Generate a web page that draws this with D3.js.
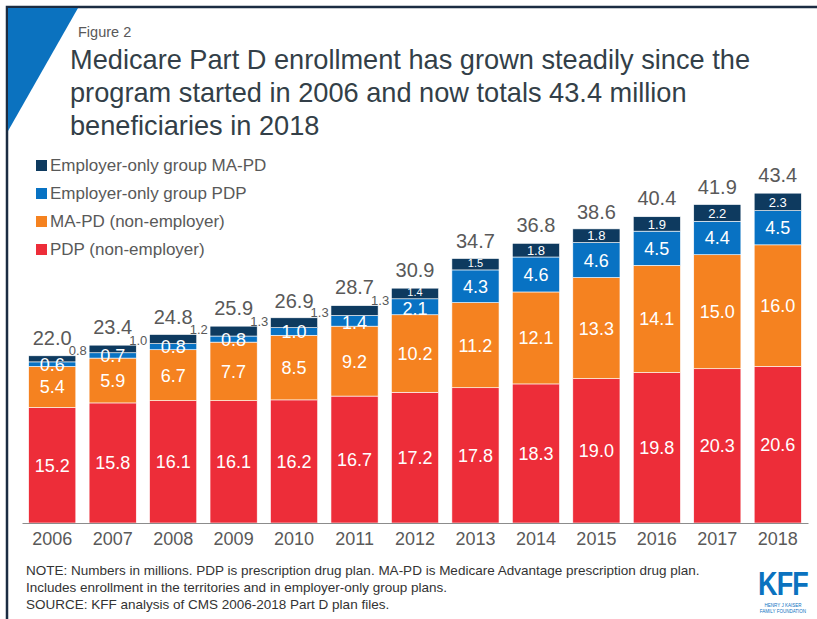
<!DOCTYPE html>
<html>
<head>
<meta charset="utf-8">
<script src="https://cdn.jsdelivr.net/npm/d3@7"></script>
<style>
html,body{margin:0;padding:0;background:#fff;}
svg{display:block;font-family:"Liberation Sans",Arial,sans-serif;}
</style>
</head>
<body>
<svg id="chart" width="817" height="619"></svg>
<script>
const years = ["2006","2007","2008","2009","2010","2011","2012","2013","2014","2015","2016","2017","2018"];
const pdp = [15.2,15.8,16.1,16.1,16.2,16.7,17.2,17.8,18.3,19.0,19.8,20.3,20.6];
const mapd = [5.4,5.9,6.7,7.7,8.5,9.2,10.2,11.2,12.1,13.3,14.1,15.0,16.0];
const empPdp = [0.6,0.7,0.8,0.8,1.0,1.4,2.1,4.3,4.6,4.6,4.5,4.4,4.5];
const empMapd = [0.8,1.0,1.2,1.3,1.3,1.3,1.4,1.5,1.8,1.8,1.9,2.2,2.3];
const totals = [22.0,23.4,24.8,25.9,26.9,28.7,30.9,34.7,36.8,38.6,40.4,41.9,43.4];
const seriesNames = ["PDP (non-employer)","MA-PD (non-employer)","Employer-only group PDP","Employer-only group MA-PD"];
const seriesColors = ["#ed2d39","#f58220","#0872c3","#0e3a5f"];
const titleLines = ["Medicare Part D enrollment has grown steadily since the","program started in 2006 and now totals 43.4 million","beneficiaries in 2018"];
const noteLines = ["NOTE: Numbers in millions. PDP is prescription drug plan. MA-PD is Medicare Advantage prescription drug plan.","Includes enrollment in the territories and in employer-only group plans.","SOURCE: KFF analysis of CMS 2006-2018 Part D plan files."];

const svg = d3.select("#chart");
const gray = "#595959";

// frame
svg.append("path").attr("d","M7,619 V7 H817").attr("fill","none").attr("stroke","#1b2c42").attr("stroke-width",2.5);
svg.append("path").attr("d","M8,8 H78 L8,131 Z").attr("fill","#0b72bf");

svg.append("text").attr("x",78).attr("y",37).attr("font-size",14.5).attr("fill",gray).text("Figure 2");
svg.append("g").selectAll("text").data(titleLines).join("text")
  .attr("x",70).attr("y",(d,i)=>69+i*33).attr("font-size",27.2).attr("fill","#333f48").text(d=>d);

// data table
const rows = years.map((y,i)=>({year:y, s0:pdp[i], s1:mapd[i], s2:empPdp[i], s3:empMapd[i], total:totals[i]}));
const keys = ["s0","s1","s2","s3"];
const stack = d3.stack().keys(keys)(rows);

const x = d3.scaleBand().domain(years).range([22,808]).paddingInner(0.22).paddingOuter(0.11);
const y = d3.scaleLinear().domain([0,45]).range([523,523-45*7.6]);

const g = svg.append("g");
stack.forEach((layer,li)=>{
  g.append("g").selectAll("rect").data(layer).join("rect")
    .attr("x",d=>x(d.data.year)).attr("width",x.bandwidth())
    .attr("y",d=>y(d[1])).attr("height",d=>y(d[0])-y(d[1]))
    .attr("fill",seriesColors[li]).attr("stroke","#fff").attr("stroke-width",0.6);
});

// segment labels
stack.forEach((layer,li)=>{
  layer.forEach((d,i)=>{
    const cx = x(d.data.year)+x.bandwidth()/2;
    const h = y(d[0])-y(d[1]);
    const val = [pdp,mapd,empPdp,empMapd][li][i];
    if(li===3){
      if(i<6){
        g.append("text").attr("x",x(d.data.year)+x.bandwidth()+2).attr("y",y(d[1])-0.5)
          .attr("text-anchor","middle").attr("font-size",13).attr("fill",gray).text(val.toFixed(1));
      } else {
        const small = h < 12;
        g.append("text").attr("x",cx).attr("y",(y(d[0])+y(d[1]))/2 - (small?1:0)).attr("dy","0.36em")
          .attr("text-anchor","middle").attr("font-size",small?11:13).attr("fill","#fff").text(val.toFixed(1));
      }
    } else {
      const off = (li===2 && h < 20 && h > 10) ? 1.5 : 0;
      g.append("text").attr("x",cx).attr("y",(y(d[0])+y(d[1]))/2 + off).attr("dy","0.36em")
        .attr("text-anchor","middle").attr("font-size",18).attr("fill","#fff").text(val.toFixed(1));
    }
  });
});

// totals
g.append("g").selectAll("text").data(rows).join("text")
  .attr("x",d=>x(d.year)+x.bandwidth()/2).attr("y",d=>y(d.total)-11)
  .attr("text-anchor","middle").attr("font-size",20).attr("fill",gray).text(d=>d.total.toFixed(1));

// x axis
const ax = svg.append("g").attr("transform","translate(0,523)").call(d3.axisBottom(x).tickSize(0).tickPadding(9));
ax.select(".domain").attr("stroke","#8c8c8c").attr("stroke-width",1.2);
ax.selectAll("text").attr("font-size",18).attr("fill",gray).attr("font-family","Liberation Sans, Arial, sans-serif");

// legend
const legendOrder = [3,2,1,0];
const lg = svg.append("g");
legendOrder.forEach((si,k)=>{
  const yy = 165+k*28;
  lg.append("rect").attr("x",36).attr("y",yy-5).attr("width",11).attr("height",11).attr("fill",seriesColors[si]);
  lg.append("text").attr("x",50).attr("y",yy).attr("dy","0.36em").attr("font-size",17).attr("fill",gray).text(seriesNames[si]);
});

// notes
svg.append("g").selectAll("text").data(noteLines).join("text")
  .attr("x",26).attr("y",(d,i)=>575+i*17).attr("font-size",13.5).attr("fill","#333").text(d=>d);

// logo
svg.append("text").attr("x",783).attr("y",595).attr("text-anchor","middle").attr("font-size",30).attr("font-weight","bold")
  .attr("fill","#0b72bf").attr("transform","translate(783,595) scale(0.9,1.1) translate(-783,-595)").attr("letter-spacing",-1).text("KFF");
svg.append("text").attr("x",783).attr("y",606.5).attr("text-anchor","middle").attr("font-size",4.5).attr("fill","#0b72bf").text("HENRY J KAISER");
svg.append("text").attr("x",783).attr("y",612.5).attr("text-anchor","middle").attr("font-size",4.5).attr("fill","#0b72bf").text("FAMILY FOUNDATION");
</script>
</body>
</html>
